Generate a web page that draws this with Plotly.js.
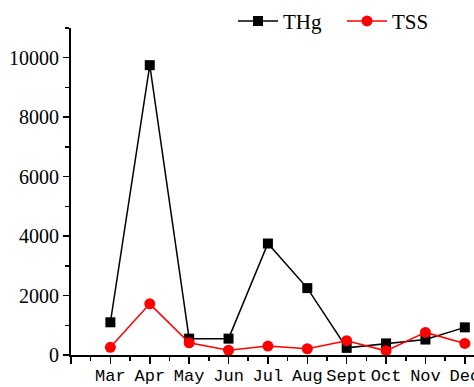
<!DOCTYPE html>
<html>
<head>
<meta charset="utf-8">
<script src="https://cdn.plot.ly/plotly-3.0.1.min.js"></script>
<style>html,body{margin:0;padding:0;overflow:hidden;background:#fff;}#chart{width:474px;height:387px;overflow:hidden;}</style>
</head>
<body>
<div id="chart"></div>
<script>
const months = ["Mar","Apr","May","Jun","Jul","Aug","Sept","Oct","Nov","Dec"];
const thg = [1100, 9750, 550, 550, 3750, 2250, 240, 390, 520, 930];
const tss = [260, 1720, 410, 160, 300, 210, 480, 140, 760, 390];
const yTicks = [0, 2000, 4000, 6000, 8000, 10000];

const xIdx = months.map((m, i) => i);
const tickVals = [-1].concat(xIdx);
const tickText = [""].concat(months);

const traces = [
  {x: xIdx, y: thg, name: "THg", type: "scatter", mode: "lines+markers",
   line: {color: "#000000", width: 1.5}, marker: {symbol: "square", size: 10, color: "#000000"}, cliponaxis: false},
  {x: xIdx, y: tss, name: "TSS", type: "scatter", mode: "lines+markers",
   line: {color: "#ff0000", width: 1.5}, marker: {symbol: "circle", size: 11, color: "#ff0000"}, cliponaxis: false}
];

const layout = {
  width: 500, height: 387,
  margin: {l: 71, r: 8, t: 28, b: 32, autoexpand: false},
  paper_bgcolor: "#ffffff", plot_bgcolor: "#ffffff",
  showlegend: true,
  legend: {orientation: "h", xref: "container", yref: "container", x: 0.466, y: 0.945, xanchor: "left", yanchor: "middle",
    font: {family: "Liberation Serif", size: 21, color: "#000"}, bgcolor: "rgba(0,0,0,0)", itemwidth: 40, tracegroupgap: 0,
    entrywidth: 54, entrywidthmode: "pixels"},
  xaxis: {
    range: [-1, 9.69], tickmode: "array", tickvals: tickVals, ticktext: tickText,
    showgrid: false, zeroline: false, showline: true, linecolor: "#000", linewidth: 2,
    ticks: "outside", ticklen: 7, tickwidth: 1.5, tickcolor: "#000",
    ticklabelstandoff: -3,
    minor: {tickmode: "linear", tick0: -0.5, dtick: 1, ticks: "outside", ticklen: 4, tickwidth: 1.5, tickcolor: "#000", showgrid: false},
    tickfont: {family: "Liberation Mono", size: 17, color: "#000"}
  },
  yaxis: {
    range: [0, 11000], tickmode: "array", tickvals: yTicks, ticktext: yTicks.map(String),
    showgrid: false, zeroline: false, showline: true, linecolor: "#000", linewidth: 2,
    ticks: "outside", ticklen: 6, tickwidth: 1.5, tickcolor: "#000",
    minor: {tickmode: "linear", tick0: 1000, dtick: 2000, ticks: "outside", ticklen: 4, tickwidth: 1.5, tickcolor: "#000", showgrid: false},
    tickfont: {family: "Liberation Serif", size: 20, color: "#000"}
  }
};

Plotly.newPlot("chart", traces, layout, {displayModeBar: false, staticPlot: true});
</script>
</body>
</html>
